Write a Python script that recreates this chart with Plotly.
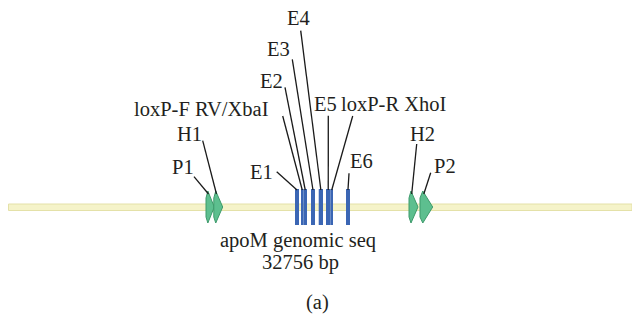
import plotly.graph_objects as go

# ---------------- data ----------------
seq_name = "apoM genomic seq"
seq_length_bp = 32756

exon_names = ["E1", "E2", "E3", "E4", "E5", "E6"]
exon_start = [15052, 15498, 15892, 16297, 16680, 17730]
exon_end = [15262, 15682, 16102, 16524, 16916, 17940]

loxp_names = ["loxP-F RV/XbaI", "loxP-R XhoI"]
loxp_start = [15367, 16916]
loxp_end = [15498, 17048]

arm_names = ["P1", "H1", "H2", "P2"]
arm_start = [10376, 10786, 21041, 21618]
arm_end = [10812, 11253, 21513, 22286]

# ---------------- layout / style ----------------
W, H = 632, 316
X0_PX = 8.5                        # pixel where bp 0 sits
BP_PER_PX = seq_length_bp / (W - X0_PX)


def px2bp(px):
    return (px - X0_PX) * BP_PER_PX


FONT = "Liberation Serif"
FS = 20.5
BLUE = "#3b66b4"
GREEN_FILL = "#5dbf8f"
GREEN_LINE = "#3d9a6b"
BB_FILL = "#f5f3c9"
BB_LINE = "#e4e1a8"
TXT = "#231f20"

BB_Y = (204, 210.5)
BAR_Y = (189, 225)
ARROW_Y = (191, 223)

# label text centre (px) and leader-line start (px)
label_layout = {
    "E4": ((298, 17.5), (300.7, 30.7)),
    "E3": ((278.5, 49), (292.3, 59.3)),
    "E2": ((271, 81), (285, 87.3)),
    "loxP-F RV/XbaI": ((201.5, 109), (282.7, 116)),
    "E5": ((325, 104), (328.3, 115.7)),
    "loxP-R XhoI": ((394, 104), (352.7, 116)),
    "H1": ((189, 134), (202.7, 140.7)),
    "P1": ((183, 167), (194, 176.7)),
    "E1": ((261, 172), (276.7, 171.7)),
    "E6": ((361, 161), (349, 173.3)),
    "H2": ((422, 134), (416.7, 144)),
    "P2": ((445, 166), (430.7, 172.7)),
}

fig = go.Figure()
shapes = []
annotations = []

# backbone
shapes.append(dict(type="rect", xref="x", yref="y", x0=0, x1=seq_length_bp,
                   y0=BB_Y[0], y1=BB_Y[1], fillcolor=BB_FILL,
                   line=dict(color=BB_LINE, width=1), layer="below"))

anchors = {}

# exons + loxP as blue bars
for names, starts, ends in [(exon_names, exon_start, exon_end),
                            (loxp_names, loxp_start, loxp_end)]:
    for n, s, e in zip(names, starts, ends):
        shapes.append(dict(type="rect", xref="x", yref="y", x0=s, x1=e,
                           y0=BAR_Y[0], y1=BAR_Y[1], fillcolor=BLUE,
                           line=dict(width=0)))
        anchors[n] = ((s + e) / 2, BAR_Y[0] + 1)

# homology arms / primers as green arrow polygons
for n, s, e in zip(arm_names, arm_start, arm_end):
    w = e - s
    top, bot = ARROW_Y
    mid = (top + bot) / 2
    xs = [s + 0.22 * w, e, s + 0.22 * w, s, s, s + 0.22 * w]
    ys = [top, mid, bot, bot - 6, top + 7, top]
    fig.add_trace(go.Scatter(x=xs, y=ys, mode="lines", fill="toself",
                             fillcolor=GREEN_FILL,
                             line=dict(color=GREEN_LINE, width=1),
                             hoverinfo="skip", showlegend=False))
    anchors[n] = (s + 0.3 * w, top + 3)

# labels + leader lines
for name, ((tx, ty), (lx, ly)) in label_layout.items():
    ax, ay = anchors[name]
    shapes.append(dict(type="line", xref="x", yref="y",
                       x0=px2bp(lx), y0=ly, x1=ax, y1=ay,
                       line=dict(color="#1a1a1a", width=1.3)))
    annotations.append(dict(x=px2bp(tx), y=ty, xref="x", yref="y", text=name,
                            showarrow=False, xanchor="center", yanchor="middle",
                            font=dict(family=FONT, size=FS, color=TXT)))

# sequence caption
annotations.append(dict(x=px2bp(298), y=240, xref="x", yref="y",
                        text=seq_name, showarrow=False,
                        font=dict(family=FONT, size=FS, color=TXT)))
annotations.append(dict(x=px2bp(300), y=262, xref="x", yref="y",
                        text=f"{seq_length_bp} bp", showarrow=False,
                        font=dict(family=FONT, size=FS, color=TXT)))
annotations.append(dict(x=px2bp(317), y=302, xref="x", yref="y", text="(a)",
                        showarrow=False,
                        font=dict(family=FONT, size=FS, color=TXT)))

fig.update_layout(
    width=W, height=H, margin=dict(l=0, r=0, t=0, b=0),
    paper_bgcolor="white", plot_bgcolor="white",
    xaxis=dict(range=[px2bp(0), px2bp(W)], visible=False, fixedrange=True),
    yaxis=dict(range=[H, 0], visible=False, fixedrange=True),
    shapes=shapes, annotations=annotations, showlegend=False,
)

fig.write_html("out.html",
               config={"displayModeBar": False, "staticPlot": True},
               post_script="document.body.style.margin='0';"
                           "document.body.style.overflow='hidden';")
